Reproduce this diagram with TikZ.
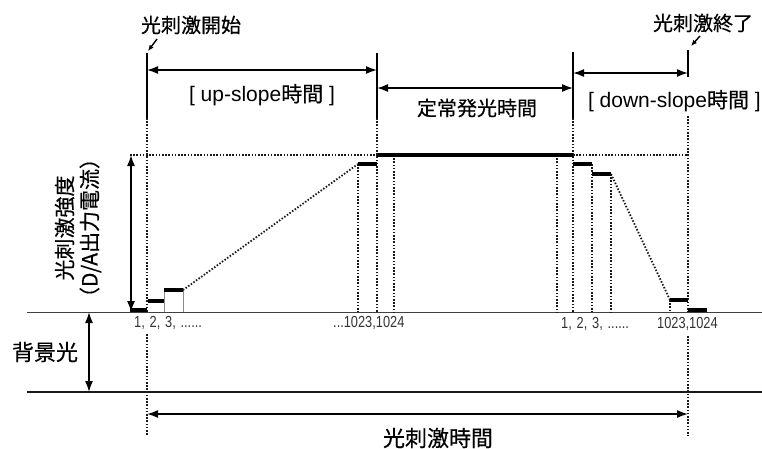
\documentclass[tikz,border=0pt]{standalone}
\usepackage{fontspec}
\setmainfont{Liberation Sans}
\newfontfamily\jp[FakeBold=0.4]{Noto Sans CJK JP}
\usetikzlibrary{arrows.meta}
\tikzset{
  thinln/.style={line width=1.3pt, black},
  dotln/.style={line width=1.8pt, dash pattern=on 1.5pt off 1.7pt, black!90},
  stepln/.style={line width=3.8pt, black},
  faintln/.style={line width=0.6pt, black!45},
  baseln/.style={line width=1pt, black!75},
  lowln/.style={line width=1.6pt, black!90},
  dimarr/.style={line width=1.6pt, black, {Latex[length=11pt,width=8pt]}-{Latex[length=11pt,width=8pt]}},
  ptrarr/.style={line width=1.4pt, black, -{Latex[length=6pt,width=5pt]}},
  jplab/.style={inner sep=0pt, font=\jp\fontsize{20}{24}\selectfont},
  biglab/.style={inner sep=0pt, font=\jp\fontsize{22}{26}\selectfont},
  latlab/.style={inner sep=0pt, font=\fontsize{21}{25}\selectfont},
  numlab/.style={inner sep=0pt, font=\fontsize{16}{19}\selectfont, text=black!80},
}
\begin{document}
\begin{tikzpicture}[x=1pt,y=-1pt]
\useasboundingbox (0,0) rectangle (762,448);

% ---------- labels ----------
\node[jplab] (start) at (191,25) {光刺激開始};
\node[jplab] (stop) at (703,23) {光刺激終了};
\node[latlab] (uplab) at (262,95) {[ up-slope{\jp 時間} ]};
\node[jplab] (steady) at (477,108) {定常発光時間};
\node[latlab, anchor=east] (downlab) at (761,101) {[ down-slope{\jp 時間} ]};
\node[biglab] (bg) at (45,352) {背景光};
\node[biglab] (total) at (438,438) {光刺激時間};
\node[inner sep=0pt, rotate=90, align=center, font=\jp\fontsize{21}{25}\selectfont] (inten) at (78,228)
  {光刺激強度\\（D/A出力電流）};

\node[numlab, anchor=west] (nl1) at (134,323) {\scalebox{0.8}[1]{1,\hspace{6pt}2,\hspace{6pt}3,\hspace{6pt}......}};
\node[numlab, anchor=west] (nl2) at (333,323) {\scalebox{0.8}[1]{...1023,1024}};
\node[numlab, anchor=west] (nr1) at (561,324) {\scalebox{0.8}[1]{1,\hspace{6pt}2,\hspace{6pt}3,\hspace{6pt}......}};
\node[numlab, anchor=west] (nr2) at (657,324) {\scalebox{0.8}[1]{1023,1024}};

% ---------- key coordinates ----------
\coordinate (sA) at (147,53);  \coordinate (sB) at (147,118); \coordinate (sC) at (147,312);
\coordinate (sD) at (147,334); \coordinate (sE) at (147,436);
\coordinate (uA) at (377,53);  \coordinate (uB) at (377,118); \coordinate (uC) at (377,312);
\coordinate (cA) at (573,52);  \coordinate (cB) at (573,118); \coordinate (cC) at (573,312);
\coordinate (eA) at (688,50);  \coordinate (eB) at (688,77);  \coordinate (eC) at (688,116);
\coordinate (eD) at (688,312); \coordinate (eE) at (688,336); \coordinate (eF) at (688,436);

% pointer arrows
\coordinate (p1a) at (157,39); \coordinate (p1b) at (148,51);
\coordinate (p2a) at (700,36); \coordinate (p2b) at (691,46);
\draw[ptrarr] (p1a) -- (p1b);
\draw[ptrarr] (p2a) -- (p2b);

% solid tick lines
\draw[thinln] (sA) -- (sB);
\draw[thinln] (uA) -- (uB);
\draw[thinln] (cA) -- (cB);
\draw[thinln] (eA) -- (eB);

% dimension arrows (top)
\coordinate (a1l) at (147,70); \coordinate (a1r) at (377,70);
\coordinate (a2l) at (377,88); \coordinate (a2r) at (573,88);
\coordinate (a3l) at (573,73); \coordinate (a3r) at (688,73);
\draw[dimarr] (a1l) -- (a1r);
\draw[dimarr] (a2l) -- (a2r);
\draw[dimarr] (a3l) -- (a3r);

% ---------- base lines ----------
\coordinate (bl) at (27,312); \coordinate (br) at (762,312);
\coordinate (ll) at (27,392); \coordinate (lr) at (762,392);
\draw[baseln] (bl) -- (br);
\draw[lowln] (ll) -- (lr);

% top level reference
\coordinate (tl) at (130,155); \coordinate (tu) at (377,155);
\coordinate (tc) at (573,155); \coordinate (te) at (688,155);
\draw[dotln] (tl) -- (tu);
\draw[dotln] (tc) -- (te);

% intensity double arrow
\coordinate (iT) at (131,155); \coordinate (iB) at (131,312);
\draw[dimarr] (iT) -- (iB);
% background light double arrow
\coordinate (gT) at (89,312); \coordinate (gB) at (89,392);
\draw[dimarr] (gT) -- (gB);

% bottom arrow
\coordinate (bA) at (147,414); \coordinate (bB) at (688,414);
\draw[dimarr] (bA) -- (bB);

% ---------- dotted verticals ----------
\draw[dotln] (sB) -- (sC);
\draw[dotln] (sD) -- (sE);
\draw[dotln] (uB) -- (uC);
\draw[dotln] (cB) -- (cC);
\draw[dotln] (eC) -- (eD);
\draw[dotln] (eE) -- (eF);
\coordinate (v1a) at (358,164); \coordinate (v1b) at (358,312);
\coordinate (v2a) at (394,155); \coordinate (v2b) at (394,312);
\coordinate (v3a) at (557,155); \coordinate (v3b) at (557,312);
\coordinate (v4a) at (592,164); \coordinate (v4b) at (592,312);
\coordinate (v5a) at (611,174); \coordinate (v5b) at (611,312);
\coordinate (v6a) at (670,300); \coordinate (v6b) at (670,312);
\draw[dotln] (v1a) -- (v1b);
\draw[dotln] (v2a) -- (v2b);
\draw[dotln] (v3a) -- (v3b);
\draw[dotln] (v4a) -- (v4b);
\draw[dotln] (v5a) -- (v5b);
\draw[dotln] (v6a) -- (v6b);

% faint verticals under up-steps
\coordinate (f1a) at (164,290); \coordinate (f1b) at (164,312);
\coordinate (f2a) at (183,290); \coordinate (f2b) at (183,312);
\draw[faintln] (f1a) -- (f1b);
\draw[faintln] (f2a) -- (f2b);

% ---------- steps ----------
% up-slope
\coordinate (u1a) at (130,310); \coordinate (u1b) at (147,310);
\coordinate (u2a) at (148,301); \coordinate (u2b) at (164,301);
\coordinate (u3a) at (164,290); \coordinate (u3b) at (183,290);
\coordinate (u4a) at (358,164); \coordinate (u4b) at (377,164);
\draw[stepln] (u1a) -- (u1b);
\draw[stepln] (u2a) -- (u2b);
\draw[stepln] (u3a) -- (u3b);
\draw[dotln] (u3b) -- (u4a);
\draw[stepln] (u4a) -- (u4b);
% steady
\draw[stepln] (tu) -- (tc);
% down-slope
\coordinate (d1a) at (573,164); \coordinate (d1b) at (592,164);
\coordinate (d2a) at (592,174); \coordinate (d2b) at (611,174);
\coordinate (d3a) at (670,300); \coordinate (d3b) at (688,300);
\coordinate (d4a) at (688,310); \coordinate (d4b) at (707,310);
\draw[stepln] (d1a) -- (d1b);
\draw[stepln] (d2a) -- (d2b);
\draw[dotln] (d2b) -- (d3a);
\draw[stepln] (d3a) -- (d3b);
\draw[stepln] (d4a) -- (d4b);
\end{tikzpicture}
\end{document}
